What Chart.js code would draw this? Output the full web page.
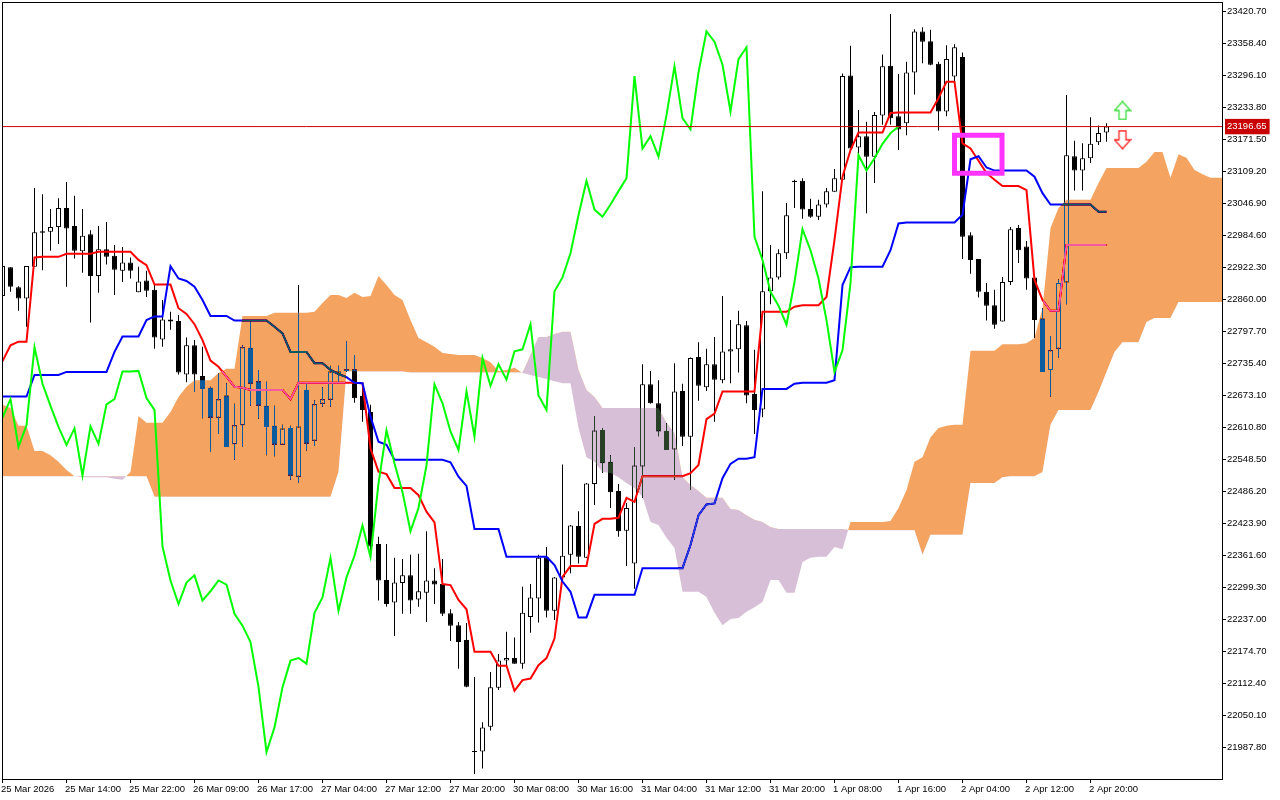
<!DOCTYPE html>
<html lang="en">
<head>
<meta charset="UTF-8">
<title>Ichimoku chart</title>
<script src="https://cdn.jsdelivr.net/npm/chart.js@4"></script>
<style>
  html, body { margin: 0; padding: 0; background: #fff; }
  canvas { display: block; }
</style>
</head>
<body>
<canvas id="myChart" width="1280" height="800"></canvas>
<script>
const opens = [
22867,22923,22884,22862,22924,22993,22992,23001,23038,23003,
22954,22987,22906,22958,22945,22916,22932,22874,22897,22879,
22782,22821,22818,22714,22771,22711,22688,22630,22673,22578,
22615,22766,22701,22653,22614,22577,22610,22515,22684,22585,
22657,22665,22715,22724,22724,22672,22641,22384,22314,22270,
22308,22323,22276,22289,22313,22306,22249,22226,22197,21981,
21980,22028,22104,22157,22162,22151,22242,22278,22358,22254,
22319,22363,22419,22357,22501,22606,22544,22487,22410,22346,
22535,22695,22658,22604,22568,22682,22593,22748,22689,22734,
22703,22759,22763,22810,22676,22646,22876,22903,22950,23089,
23091,23036,23021,23045,23070,23093,23296,23156,23178,23138,
23218,23315,23217,23203,23302,23382,23363,23319,23226,23294,
23332,22985,22939,22875,22849,22817,22894,22999,22963,22903,
22823,22723,22764,22893,23139,23111,23135,23166,23185];
const highs = [
22925,22923,22886,22925,23077,23065,23036,23057,23089,23062,
23036,22995,23003,23011,22966,22962,22942,22924,22916,22892,
22859,22836,22830,22786,22781,22768,22690,22716,22697,22657,
22771,22817,22723,22700,22653,22616,22614,22888,22697,22664,
22689,22731,22731,22779,22752,22697,22655,22398,22384,22357,
22355,22363,22365,22409,22337,22355,22257,22232,22230,22125,
22037,22135,22170,22213,22202,22301,22306,22363,22378,22320,
22539,22421,22448,22503,22633,22610,22557,22501,22464,22573,
22734,22721,22703,22619,22736,22696,22747,22777,22764,22787,
22867,22820,22838,22818,22762,23071,22966,22958,23048,23093,
23096,23056,23054,23077,23114,23300,23354,23229,23206,23225,
23337,23416,23299,23323,23386,23390,23385,23323,23355,23357,
23341,22991,22939,22892,22879,22904,23001,23005,22974,22904,
22843,22789,22899,23258,23169,23164,23215,23199,23203];
const lows = [
22838,22875,22838,22807,22924,22917,22955,22968,22885,22940,
22912,22815,22873,22928,22869,22894,22901,22874,22865,22764,
22768,22801,22714,22699,22680,22629,22563,22598,22573,22548,
22573,22653,22628,22557,22555,22577,22509,22503,22566,22575,
22651,22651,22699,22719,22659,22622,22372,22274,22262,22205,
22248,22248,22262,22232,22267,22244,22195,22141,22105,21936,
21947,22021,22100,22145,22151,22141,22211,22231,22241,22236,
22318,22327,22346,22357,22460,22522,22454,22398,22341,22297,
22474,22657,22594,22567,22509,22575,22489,22663,22682,22622,
22697,22697,22718,22658,22598,22631,22851,22899,22939,23038,
23017,23019,23015,23039,23070,23093,23147,23141,23028,23087,
23200,23200,23151,23180,23259,23320,23316,23189,23217,23283,
22939,22910,22864,22819,22803,22817,22888,22931,22879,22785,
22719,22671,22747,22851,23072,23072,23126,23161,23167];
const closes = [
22925,22885,22862,22925,22991,22990,23001,23038,22998,22955,
22984,22906,22958,22943,22918,22932,22916,22895,22877,22786,
22821,22817,22718,22771,22714,22686,22630,22666,22573,22615,
22767,22696,22653,22612,22577,22609,22517,22613,22579,22656,
22666,22720,22720,22721,22668,22645,22379,22313,22267,22309,
22323,22274,22292,22313,22305,22248,22225,22193,22106,21979,
22027,22105,22157,22162,22151,22250,22280,22357,22254,22319,
22361,22420,22359,22502,22605,22541,22485,22409,22454,22537,
22695,22658,22603,22567,22681,22593,22746,22692,22734,22704,
22759,22763,22812,22673,22645,22876,22903,22950,23024,23091,
23035,23021,23045,23071,23096,23295,23154,23178,23138,23219,
23314,23213,23191,23302,23382,23362,23317,23226,23328,23351,
22982,22937,22875,22848,22811,22894,22997,22956,22901,22820,
22719,22761,22892,23141,23111,23135,23163,23184,23196.65];

const tenkan = [
22740,22771,22778,22778,22942,22943,22943,22943,22949,22949,
22949,22949,22953,22953,22953,22953,22953,22937,22927,22889,
22889,22889,22843,22832,22812,22781,22741,22729,22710,22690,
22688,22684,22684,22684,22684,22684,22666,22698,22698,22698,
22698,22698,22698,22698,22698,22697,22570,22525,22520,22493,
22493,22493,22479,22447,22426,22306,22304,22275,22257,22174,
22174,22174,22147,22147,22098,22119,22122,22148,22162,22200,
22320,22341,22341,22341,22423,22433,22433,22435,22474,22466,
22516,22516,22516,22516,22516,22516,22522,22538,22627,22638,
22681,22681,22681,22681,22681,22836,22836,22836,22836,22846,
22849,22849,22849,22865,22976,23099,23151,23185,23185,23185,
23185,23223,23224,23224,23224,23224,23224,23252,23284,23284,
23164,23154,23130,23106,23093,23081,23081,23081,23073,22898,
22859,22838,22838,22966,22966,22966,22966,22966,22966];
const kijun = [
22671,22671,22671,22671,22713,22713,22713,22713,22719,22719,
22719,22719,22719,22719,22758,22788,22788,22788,22820,22827,
22827,22925,22901,22896,22885,22859,22828,22828,22828,22819,
22819,22819,22819,22819,22807,22794,22758,22758,22758,22736,
22736,22723,22715,22709,22698,22697,22632,22583,22577,22548,
22548,22548,22548,22548,22548,22548,22543,22515,22497,22413,
22413,22413,22413,22359,22359,22359,22359,22359,22359,22343,
22311,22291,22241,22241,22285,22285,22285,22285,22285,22285,
22337,22337,22337,22337,22337,22337,22382,22440,22461,22463,
22512,22540,22550,22550,22553,22686,22686,22686,22686,22696,
22698,22698,22698,22698,22703,22888,22923,22924,22924,22924,
22924,22956,23008,23010,23010,23010,23010,23010,23010,23010,
23025,23133,23139,23117,23111,23111,23111,23111,23111,23099,
23067,23045,23045,23045,23045,23045,23045,23031,23031];
const chikou = [
22630,22666,22573,22615,22767,22696,22653,22612,22577,22609,
22517,22613,22579,22656,22666,22720,22720,22721,22668,22645,
22379,22313,22267,22309,22323,22274,22292,22313,22305,22248,
22225,22193,22106,21979,22027,22105,22157,22162,22151,22250,
22280,22357,22254,22319,22361,22420,22359,22502,22605,22541,
22485,22409,22454,22537,22695,22658,22603,22567,22681,22593,
22746,22692,22734,22704,22759,22763,22812,22673,22645,22876,
22903,22950,23024,23091,23035,23021,23045,23071,23096,23295,
23154,23178,23138,23219,23314,23213,23191,23302,23382,23362,
23317,23226,23328,23351,22982,22937,22875,22848,22811,22894,
22997,22956,22901,22820,22719,22761,22892,23141,23111,23135,
23163,23184,23197];
const spanA = [
22655,22649,22614,22614,22565,22565,22557,22544,22528,22516,
22514,22514,22514,22514,22511,22509,22524,22633,22620,22620,
22620,22641,22670,22690,22703,22703,22703,22717,22725,22725,
22828,22828,22828,22828,22834,22834,22834,22834,22834,22836,
22853,22869,22869,22863,22873,22865,22867,22906,22888,22869,
22859,22820,22785,22777,22768,22756,22754,22752,22752,22752,
22746,22738,22721,22723,22727,22717,22713,22709,22705,22701,
22697,22697,22610,22553,22544,22524,22522,22514,22503,22493,
22476,22427,22421,22396,22376,22291,22291,22291,22281,22250,
22226,22238,22240,22252,22261,22271,22314,22314,22289,22289,
22349,22357,22359,22359,22378,22374,22427,22427,22427,22427,
22427,22429,22454,22489,22544,22553,22592,22610,22614,22616,
22616,22760,22760,22760,22760,22773,22773,22773,22775,22785,
22843,22999,23038,23054,23054,23054,23054,23087,23116,23116,
23116,23116,23116,23128,23147,23147,23097,23143,23136,23112,
23104,23097,23097,23097];
const spanB = [
22516,22516,22516,22516,22516,22516,22516,22516,22516,22516,
22516,22516,22516,22516,22516,22516,22516,22516,22516,22476,
22476,22476,22476,22476,22476,22476,22476,22476,22476,22476,
22476,22476,22476,22476,22476,22476,22476,22476,22476,22476,
22476,22476,22524,22720,22720,22720,22720,22720,22720,22720,
22720,22718,22718,22718,22718,22718,22718,22718,22718,22718,
22718,22718,22718,22718,22718,22718,22752,22787,22787,22793,
22797,22797,22723,22684,22670,22649,22649,22649,22649,22649,
22649,22649,22649,22620,22600,22514,22499,22487,22474,22474,
22474,22452,22450,22440,22431,22427,22417,22413,22413,22413,
22413,22413,22413,22413,22413,22413,22411,22411,22411,22411,
22411,22411,22411,22411,22411,22363,22402,22402,22402,22402,
22402,22503,22503,22503,22503,22514,22516,22516,22516,22516,
22524,22616,22645,22645,22645,22645,22645,22680,22719,22758,
22777,22777,22777,22816,22824,22824,22824,22855,22855,22855,
22855,22855,22855,22855];

const yTicks = [23420.7,23358.4,23296.1,23233.8,23171.5,23109.2,23046.9,22984.6,22922.3,22860,22797.7,22735.4,22673.1,22610.8,22548.5,22486.2,22423.9,22361.6,22299.3,22237,22174.7,22112.4,22050.1,21987.8];
const lastPrice = 23196.65;
const xTicks = [0,8,16,24,32,40,48,56,64,72,80,88,96,104,112,120,128,136];
const xLabels = ['25 Mar 2026','25 Mar 14:00','25 Mar 22:00','26 Mar 09:00','26 Mar 17:00','27 Mar 04:00','27 Mar 12:00','27 Mar 20:00','30 Mar 08:00','30 Mar 16:00','31 Mar 04:00','31 Mar 12:00','31 Mar 20:00','1 Apr 08:00','1 Apr 16:00','2 Apr 04:00','2 Apr 12:00','2 Apr 20:00'];

const boxBars = [119,124.94,124.94,119,119];
const boxPrices = [23180,23180,23106,23106,23180];
const priceLineBars = [-1,154];
const upArrowBar = [140], upArrowPrice = [23228];
const downArrowBar = [140], downArrowPrice = [23171];

const xy = arr => arr.map((v, i) => ({ x: i, y: v }));
const font = { family: '"Liberation Sans", sans-serif', size: 9.5 };

// hollow arrows are small canvases, used as the point style
function arrowIcon(up, color) {
    const c = document.createElement('canvas');
    c.width = 18; c.height = 20;
    const g = c.getContext('2d');
    const pts = [[9,1],[17,10],[12.5,10],[12.5,19],[5.5,19],[5.5,10],[1,10]];
    g.beginPath();
    pts.forEach((p, i) => {
        const y = up ? p[1] : 20 - p[1];
        if (i === 0) g.moveTo(p[0], y); else g.lineTo(p[0], y);
    });
    g.closePath();
    g.fillStyle = '#fff';
    g.fill();
    g.lineWidth = 1.3; g.strokeStyle = color; g.stroke();
    return c;
}

// the cloud is painted like the terminal does it: inverted over what is below
const cloudBlend = {
    id: 'cloudBlend',
    beforeDraw(chart) {
        const ctx = chart.ctx;
        ctx.save();
        ctx.fillStyle = '#fff';
        ctx.fillRect(0, 0, chart.width, chart.height);
        ctx.restore();
    },
    afterDatasetDraw(chart, args) {
        const label = chart.data.datasets[args.index].label;
        if (label === 'Senkou B') chart.ctx.globalCompositeOperation = 'difference';
        if (label === 'Senkou A') chart.ctx.globalCompositeOperation = 'source-over';
    },
    afterDraw(chart) {
        const ctx = chart.ctx, a = chart.chartArea;
        ctx.save();
        ctx.strokeStyle = '#000';
        ctx.lineWidth = 1;
        ctx.strokeRect(a.left + 0.5, a.top + 0.5, a.right - a.left, a.bottom - a.top);
        ctx.restore();
    }
};

function noPadding(s) {
    s.paddingLeft = 0; s.paddingRight = 0; s.paddingTop = 0; s.paddingBottom = 0;
}

const lineBase = { type: 'line', pointRadius: 0, tension: 0, fill: false };

new Chart(document.getElementById('myChart'), {
    type: 'bar',
    data: {
        datasets: [
            { label: 'Wicks', order: 10, grouped: false, barThickness: 1, inflateAmount: 0,
              backgroundColor: '#000', borderWidth: 0,
              data: highs.map((h, i) => ({ x: i, y: [lows[i], h] })) },
            { label: 'Bodies', order: 9, grouped: false, barThickness: 5, inflateAmount: 0,
              borderColor: '#000', borderWidth: 1, borderSkipped: false,
              backgroundColor: closes.map((c, i) => c < opens[i] ? '#000' : '#fff'),
              data: opens.map((o, i) => ({ x: i, y: [o, closes[i]] })) },
            { ...lineBase, label: 'Tenkan', order: 8, borderColor: '#ff0000', borderWidth: 2, data: xy(tenkan) },
            { ...lineBase, label: 'Kijun', order: 7, borderColor: '#0000ff', borderWidth: 2, data: xy(kijun) },
            { ...lineBase, label: 'Senkou A', order: 5, borderWidth: 0,
              fill: { target: '+1', above: '#0b5b9f', below: '#274027' }, data: xy(spanA) },
            { ...lineBase, label: 'Senkou B', order: 6, borderWidth: 0, data: xy(spanB) },
            { ...lineBase, label: 'Chikou', order: 4, borderColor: '#00ff00', borderWidth: 2, data: xy(chikou) },
            { ...lineBase, label: 'Price', order: 3, borderColor: '#d00000', borderWidth: 1,
              data: priceLineBars.map(x => ({ x: x, y: lastPrice })) },
            { ...lineBase, label: 'Box', order: 2, borderColor: '#ff33ff', borderWidth: 5,
              borderJoinStyle: 'miter', borderCapStyle: 'square',
              data: boxBars.map((x, i) => ({ x: x, y: boxPrices[i] })) },
            { ...lineBase, label: 'Up', order: 1, showLine: false, pointRadius: 9,
              pointStyle: arrowIcon(true, '#33dd33'),
              data: upArrowBar.map((x, i) => ({ x: x, y: upArrowPrice[i] })) },
            { ...lineBase, label: 'Down', order: 1, showLine: false, pointRadius: 9,
              pointStyle: arrowIcon(false, '#ff2020'),
              data: downArrowBar.map((x, i) => ({ x: x, y: downArrowPrice[i] })) }
        ]
    },
    options: {
        responsive: false,
        animation: false,
        devicePixelRatio: 1,
        events: [],
        layout: { autoPadding: false, padding: { left: 2, top: 2, right: 0, bottom: 0 } },
        plugins: { legend: { display: false }, tooltip: { enabled: false } },
        scales: {
            x: {
                type: 'linear',
                offset: false,
                min: -0.0625,
                max: 152.4375,
                afterBuildTicks: s => { s.ticks = xTicks.map(v => ({ value: v })); },
                afterFit: s => { s.height = 21; noPadding(s); },
                border: { color: '#000', width: 1 },
                grid: { offset: false, drawOnChartArea: false, tickLength: 4, tickColor: '#000' },
                ticks: {
                    autoSkip: false, maxRotation: 0, minRotation: 0, align: 'start', padding: 1,
                    labelOffset: -1.5,
                    color: '#000', font: font,
                    callback: (v, i) => xLabels[i]
                }
            },
            y: {
                position: 'right',
                min: 21926.5,
                max: 23439.2,
                afterBuildTicks: s => { s.ticks = yTicks.concat(lastPrice).map(v => ({ value: v })); },
                afterFit: s => { s.width = 58; noPadding(s); },
                border: { color: '#000', width: 1 },
                grid: {
                    drawOnChartArea: false, tickLength: 4,
                    tickColor: c => c.tick.value === lastPrice ? 'rgba(0,0,0,0)' : '#000'
                },
                ticks: {
                    autoSkip: false, padding: 1, font: font,
                    color: c => c.tick.value === lastPrice ? '#fff' : '#000',
                    showLabelBackdrop: c => c.tick.value === lastPrice,
                    backdropColor: '#c80000',
                    backdropPadding: { left: 2, right: 3, top: 2, bottom: 2 },
                    callback: v => v.toFixed(2)
                }
            }
        }
    },
    plugins: [cloudBlend]
});
</script>
</body>
</html>
